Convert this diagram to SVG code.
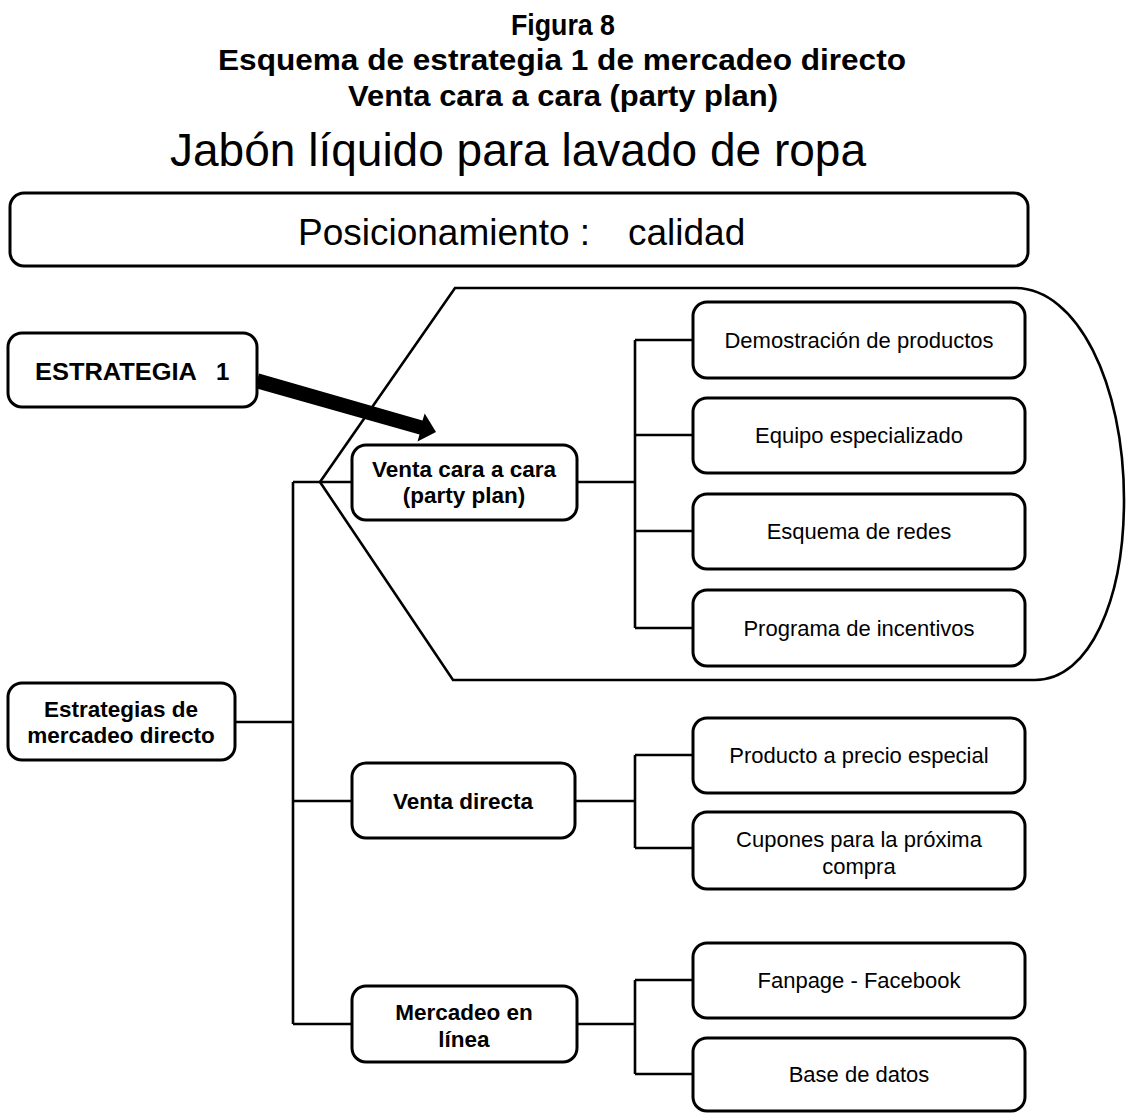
<svg xmlns="http://www.w3.org/2000/svg" width="1126" height="1113" viewBox="0 0 1126 1113">
  <style>
    .box { fill: #fff; stroke: #000; stroke-width: 3; }
    .wire { fill: none; stroke: #000; stroke-width: 2.6; }
    .lbl { font-family: "Liberation Sans", Arial, sans-serif; font-size: 22px; fill: #000; text-anchor: middle; }
    .lblb { font-family: "Liberation Sans", Arial, sans-serif; font-size: 22.5px; font-weight: bold; fill: #000; text-anchor: middle; }
    .ttl { font-family: "Liberation Sans", Arial, sans-serif; font-size: 30px; font-weight: bold; fill: #000; text-anchor: middle; }
  </style>
  <rect width="1126" height="1113" fill="#fff"/>

  <!-- heading -->
  <g id="heading">
    <text class="ttl" x="563" y="35" textLength="104" lengthAdjust="spacingAndGlyphs">Figura 8</text>
    <text class="ttl" x="562" y="70" textLength="688" lengthAdjust="spacingAndGlyphs">Esquema de estrategia 1 de mercadeo directo</text>
    <text class="ttl" x="563" y="106" textLength="430" lengthAdjust="spacingAndGlyphs">Venta cara a cara (party plan)</text>
    <text x="518" y="166" font-family="Liberation Sans, Arial, sans-serif" font-size="46" text-anchor="middle" textLength="696" lengthAdjust="spacingAndGlyphs">Jabón líquido para lavado de ropa</text>
  </g>

  <!-- positioning banner -->
  <g id="posicionamiento">
    <rect class="box" x="10" y="193" width="1018" height="73" rx="14"/>
    <text x="298" y="245" font-family="Liberation Sans, Arial, sans-serif" font-size="37">Posicionamiento :</text>
    <text x="628" y="245" font-family="Liberation Sans, Arial, sans-serif" font-size="37">calidad</text>
  </g>

  <!-- bracket outlining strategy 1 -->
  <g id="estrategia1-zona">
    <path class="wire" d="M320,482 L455,288 L1015,288 C1077,288 1124,383 1124,500 C1124,599 1090,680 1035,680 L453,680 Z"/>
  </g>

  <!-- connectors -->
  <g id="connectors">
    <path class="wire" d="M293,482 V1024 M293,482 H352 M235,722 H293 M293,801 H352 M293,1024 H352"/>
    <path class="wire" d="M577,482 H635 M635,340 V628 M635,340 H693 M635,435 H693 M635,531 H693 M635,628 H693"/>
    <path class="wire" d="M575,801 H635 M635,755 V848 M635,755 H693 M635,848 H693"/>
    <path class="wire" d="M577,1024 H635 M635,980 V1074 M635,980 H693 M635,1074 H693"/>
    <!-- heavy pointer from ESTRATEGIA 1 -->
    <polygon fill="#000" points="255,388 259,373.5 422.5,420.5 424.7,413.5 436,432 417.5,441.5 419.5,434.5"/>
  </g>

  <g id="estrategia-1">
    <rect class="box" x="8" y="333" width="249" height="74" rx="14"/>
    <text x="35" y="380" font-family="Liberation Sans, Arial, sans-serif" font-size="24" font-weight="bold" textLength="162" lengthAdjust="spacingAndGlyphs">ESTRATEGIA</text>
    <text x="216" y="380" font-family="Liberation Sans, Arial, sans-serif" font-size="24" font-weight="bold">1</text>
  </g>

  <g id="estrategias-mercadeo">
    <rect class="box" x="8" y="683" width="227" height="77" rx="14"/>
    <text class="lblb" x="121" y="717">Estrategias de</text>
    <text class="lblb" x="121" y="743">mercadeo directo</text>
  </g>

  <g id="venta-cara">
    <rect class="box" x="352" y="445" width="225" height="75" rx="14"/>
    <text class="lblb" x="464" y="477">Venta cara a cara</text>
    <text class="lblb" x="464" y="503">(party plan)</text>
  </g>

  <g id="venta-directa">
    <rect class="box" x="352" y="763" width="223" height="75" rx="14"/>
    <text class="lblb" x="463" y="809">Venta directa</text>
  </g>

  <g id="mercadeo-linea">
    <rect class="box" x="352" y="986" width="225" height="76" rx="14"/>
    <text class="lblb" x="464" y="1020">Mercadeo en</text>
    <text class="lblb" x="464" y="1047">línea</text>
  </g>

  <g id="demostracion">
    <rect class="box" x="693" y="302" width="332" height="76" rx="14"/>
    <text class="lbl" x="859" y="348">Demostración de productos</text>
  </g>

  <g id="equipo">
    <rect class="box" x="693" y="398" width="332" height="75" rx="14"/>
    <text class="lbl" x="859" y="443">Equipo especializado</text>
  </g>

  <g id="esquema-redes">
    <rect class="box" x="693" y="494" width="332" height="75" rx="14"/>
    <text class="lbl" x="859" y="539">Esquema de redes</text>
  </g>

  <g id="incentivos">
    <rect class="box" x="693" y="590" width="332" height="76" rx="14"/>
    <text class="lbl" x="859" y="636">Programa de incentivos</text>
  </g>

  <g id="precio-especial">
    <rect class="box" x="693" y="718" width="332" height="75" rx="14"/>
    <text class="lbl" x="859" y="763">Producto a precio especial</text>
  </g>

  <g id="cupones">
    <rect class="box" x="693" y="812" width="332" height="77" rx="14"/>
    <text class="lbl" x="859" y="847">Cupones para la próxima</text>
    <text class="lbl" x="859" y="874">compra</text>
  </g>

  <g id="fanpage">
    <rect class="box" x="693" y="943" width="332" height="75" rx="14"/>
    <text class="lbl" x="859" y="988">Fanpage - Facebook</text>
  </g>

  <g id="base-datos">
    <rect class="box" x="693" y="1038" width="332" height="73" rx="14"/>
    <text class="lbl" x="859" y="1082">Base de datos</text>
  </g>
</svg>
